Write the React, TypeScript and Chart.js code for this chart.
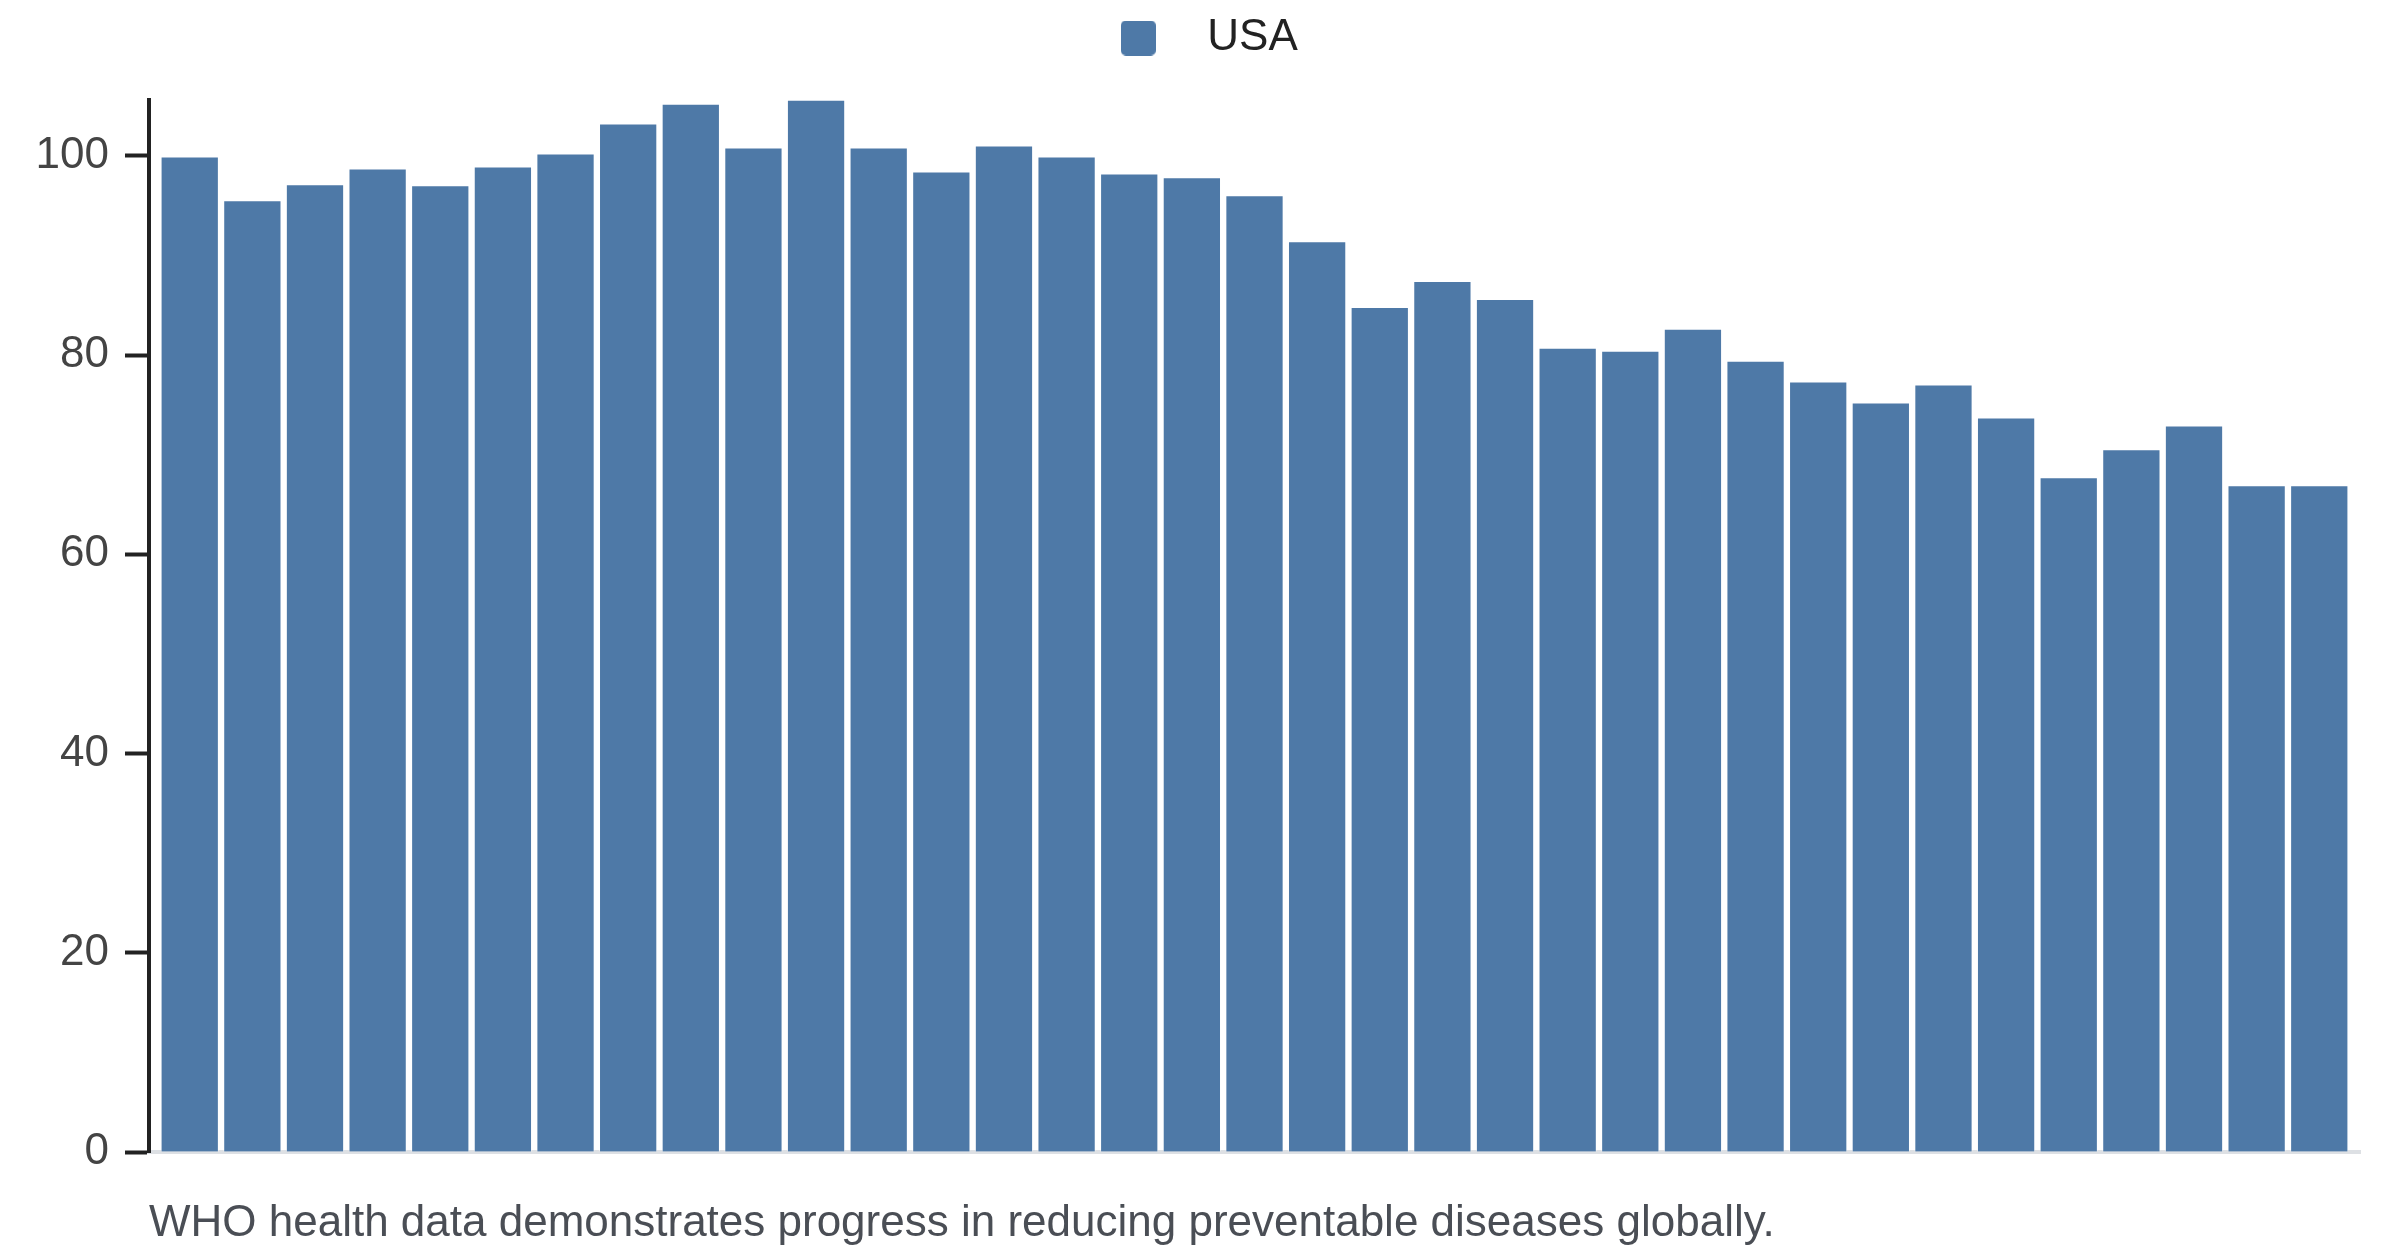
import { useEffect, useRef } from "react";
import { Chart, registerables } from "chart.js";

Chart.register(...registerables);

// years shown as bars (no x labels in the chart)
const years = [
  1985, 1986, 1987, 1988, 1989, 1990, 1991, 1992, 1993, 1994, 1995, 1996,
  1997, 1998, 1999, 2000, 2001, 2002, 2003, 2004, 2005, 2006, 2007, 2008,
  2009, 2010, 2011, 2012, 2013, 2014, 2015, 2016, 2017, 2018, 2019,
];

const usaValues = [
  99.9, 95.5, 97.1, 98.7, 97.0, 98.9, 100.2, 103.2, 105.2, 100.8, 105.6, 100.8,
  98.4, 101.0, 99.9, 98.2, 97.8, 96.0, 91.4, 84.8, 87.4, 85.6, 80.7, 80.4,
  82.6, 79.4, 77.3, 75.2, 77.0, 73.7, 67.7, 70.5, 72.9, 66.9, 66.9,
];

const seriesLabel = "USA";
const yMax = 105.6;
const yStep = 20;
const caption =
  "WHO health data demonstrates progress in reducing preventable diseases globally.";

const FONT = '"Liberation Sans", Arial, Helvetica, sans-serif';
const BAR_COLOR = "#4e79a7";

function makeSwatch(): HTMLCanvasElement {
  const c = document.createElement("canvas");
  c.width = 35;
  c.height = 35;
  const ctx = c.getContext("2d")!;
  ctx.fillStyle = BAR_COLOR;
  ctx.beginPath();
  ctx.roundRect(0, 0, 35, 35, 5);
  ctx.fill();
  return c;
}

// leaves a gap between the legend and the plot
const legendGap = {
  id: "legendGap",
  beforeInit(chart: any) {
    const fit = chart.legend.fit;
    chart.legend.fit = function () {
      fit.call(this);
      this.height += 30;
    };
  },
};

export default function App() {
  const canvasRef = useRef<HTMLCanvasElement | null>(null);

  useEffect(() => {
    const canvas = canvasRef.current;
    if (!canvas) return;

    Chart.defaults.font.family = FONT;

    const chart = new Chart(canvas, {
      type: "bar",
      data: {
        datasets: [
          {
            label: seriesLabel,
            data: years.map((yr, i) => ({ x: yr, y: usaValues[i] })),
            backgroundColor: BAR_COLOR,
            borderColor: "rgba(255,255,255,0.45)",
            borderWidth: 1,
            barThickness: "flex",
            barPercentage: 0.92,
            categoryPercentage: 1,
          },
        ],
      },
      options: {
        animation: false,
        responsive: true,
        maintainAspectRatio: false,
        layout: { padding: { top: 6, left: 29, right: 40, bottom: 104 } },
        plugins: {
          legend: {
            position: "top",
            labels: {
              usePointStyle: true,
              pointStyle: makeSwatch(),
              pointStyleWidth: 94,
              boxHeight: 35,
              padding: 10,
              color: "#222",
              font: { size: 44, family: FONT },
            },
          },
          tooltip: { enabled: false },
        },
        scales: {
          x: {
            type: "linear",
            offset: true,
            bounds: "data",
            // the offset adds half a year on each side
            min: years[0] - 0.16,
            max: years[years.length - 1] + 0.16,
            ticks: { display: false, stepSize: 1, includeBounds: false },
            grid: {
              display: true,
              drawOnChartArea: false,
              drawTicks: false,
            },
            border: { display: true, color: "#dde0e4", width: 4 },
          },
          y: {
            min: 0,
            max: yMax,
            ticks: {
              stepSize: yStep,
              includeBounds: false,
              padding: 16,
              color: "#444",
              font: { size: 44, family: FONT },
            },
            grid: {
              drawOnChartArea: false,
              drawTicks: true,
              tickLength: 24,
              tickWidth: 4,
              tickColor: "#222",
            },
            border: { display: true, color: "#222", width: 4 },
            afterFit(scale: any) {
              scale.width = 120;
              scale.paddingTop = 0;
              scale.paddingBottom = 0;
            },
          },
        },
      },
      plugins: [legendGap],
    } as any);

    return () => {
      chart.destroy();
    };
  }, []);

  return (
    <div
      style={{
        position: "fixed",
        left: 0,
        top: 0,
        width: 2400,
        height: 1256,
        background: "#fff",
      }}
    >
      <div style={{ position: "relative", width: 2400, height: 1256 }}>
        <canvas ref={canvasRef}></canvas>
      </div>
      <div
        style={{
          position: "absolute",
          left: 149,
          top: 1199,
          fontFamily: FONT,
          fontSize: 44,
          lineHeight: "44px",
          color: "#4a4e55",
          whiteSpace: "nowrap",
        }}
      >
        {caption}
      </div>
    </div>
  );
}
